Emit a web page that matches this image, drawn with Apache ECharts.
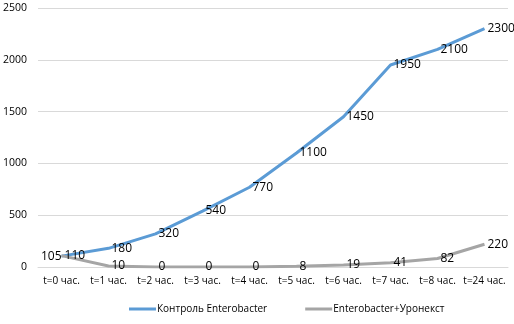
<!DOCTYPE html>
<html>
<head>
<meta charset="utf-8">
<script src="https://cdn.jsdelivr.net/npm/echarts@6/dist/echarts.min.js"></script>
<style>
  html, body { margin: 0; padding: 0; background: #fff; }
  #chart { width: 514px; height: 324px; }
</style>
</head>
<body>
<div id="chart"></div>
<script>
var categories = ['t=0 час.', 't=1 час.', 't=2 час.', 't=3 час.', 't=4 час.', 't=5 час.', 't=6 час.', 't=7 час.', 't=8 час.', 't=24 час.'];
var controlValues = [105, 180, 320, 540, 770, 1100, 1450, 1950, 2100, 2300];
var uronextValues = [110, 10, 0, 0, 0, 8, 19, 41, 82, 220];
var seriesNames = ['Контроль Enterobacter', 'Enterobacter+Уронекст'];

var chart = echarts.init(document.getElementById('chart'));

var font = 'Open Sans';

// first blue label sits left of the point, like the original
var controlData = controlValues.map(function (v, i) {
  if (i === 0) return { value: v, label: { position: 'left', distance: 0 } };
  return v;
});

var labelStyle = { show: true, position: 'right', distance: 3, color: '#000', fontSize: 12, fontFamily: font };

var option = {
  backgroundColor: '#fff',
  animation: false,
  color: ['#5B9BD5', '#A5A5A5'],
  textStyle: { fontFamily: font },
  grid: { left: 33, right: 6, top: 8, bottom: 57 },
  legend: {
    bottom: 5,
    left: 124,
    itemWidth: 27,
    itemHeight: 3,
    itemGap: 38,
    icon: 'rect',
    textStyle: { fontSize: 10, color: '#000', fontFamily: font, padding: [0, 0, 0, -4] },
    data: seriesNames
  },
  xAxis: {
    type: 'category',
    data: categories,
    boundaryGap: true,
    axisLine: { lineStyle: { color: '#d9d9d9' } },
    axisTick: { show: false },
    axisLabel: { color: '#000', fontSize: 10, margin: 9, interval: 0, fontFamily: font }
  },
  yAxis: {
    type: 'value',
    min: 0,
    max: 2500,
    interval: 500,
    axisLine: { show: false },
    axisTick: { show: false },
    axisLabel: { color: '#000', fontSize: 10.5, margin: 11, fontFamily: font, formatter: function (v) { return String(v); } },
    splitLine: { lineStyle: { color: '#d9d9d9', width: 1 } }
  },
  series: [
    {
      name: seriesNames[0],
      type: 'line',
      data: controlData,
      symbol: 'circle',
      symbolSize: 0,
      showSymbol: true,
      lineStyle: { width: 3 },
      label: labelStyle
    },
    {
      name: seriesNames[1],
      type: 'line',
      data: uronextValues,
      symbol: 'circle',
      symbolSize: 0,
      showSymbol: true,
      lineStyle: { width: 3 },
      label: labelStyle
    }
  ]
};

chart.setOption(option);
</script>
</body>
</html>
